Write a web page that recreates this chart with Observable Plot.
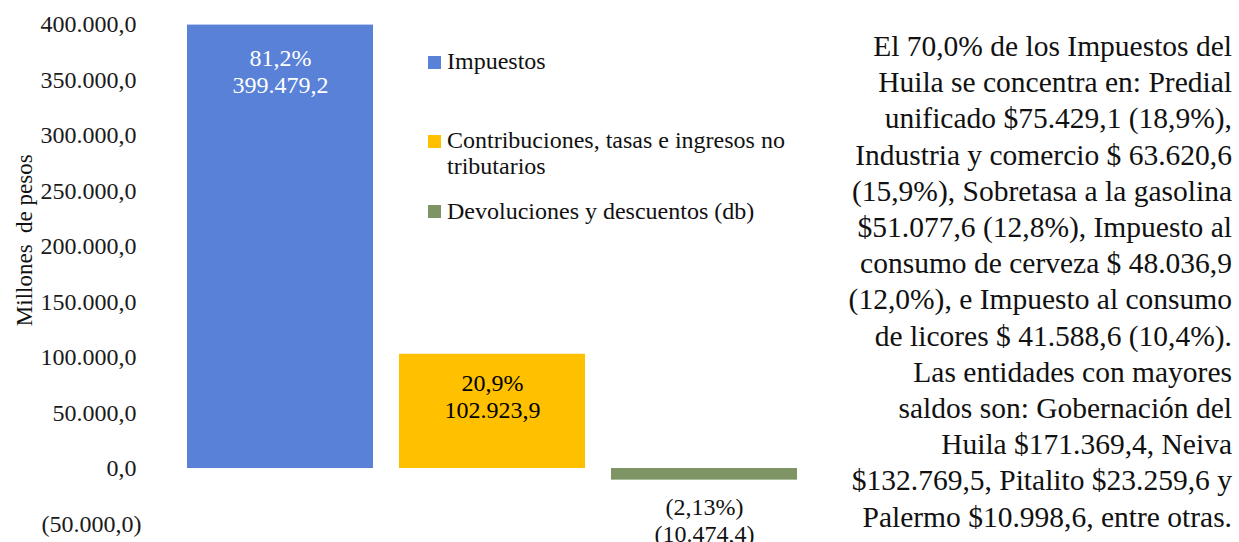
<!DOCTYPE html>
<html><head><meta charset="utf-8">
<script src="https://cdn.jsdelivr.net/npm/d3@7"></script>
<script src="https://cdn.jsdelivr.net/npm/@observablehq/plot@0.6"></script>
<style>
body{margin:0;background:#fff;}
#wrap{position:relative;width:1239px;height:542px;overflow:hidden;font-family:"Liberation Serif",serif;color:#000;background:#fff;}
#chart{position:absolute;left:0;top:0;}
#chart svg text{white-space:pre;}
.sw{position:absolute;left:428px;width:13px;height:13px;}
.lt{position:absolute;left:447px;width:350px;font-size:24px;line-height:26px;color:#111;}
#note{position:absolute;right:7px;top:28px;font-size:29.5px;line-height:36.2px;text-align:right;white-space:nowrap;color:#111;}
</style></head><body>
<div id="wrap"><div id="chart"></div><div id="legend"></div><div id="note"></div></div>
<script>
// ---- data ----
const categories = ["Impuestos", "Contribuciones, tasas e ingresos no tributarios", "Devoluciones y descuentos (db)"];
const values = [399479.2, 102923.9, -10474.4];
const shares = [81.2, 20.9, -2.13];
const yTicks = [-50000, 0, 50000, 100000, 150000, 200000, 250000, 300000, 350000, 400000];
const yLabel = "Millones  de pesos";
const noteLines = [
  "El 70,0% de los Impuestos del",
  "Huila se concentra en: Predial",
  "unificado $75.429,1 (18,9%),",
  "Industria y comercio $ 63.620,6",
  "(15,9%), Sobretasa a la gasolina",
  "$51.077,6 (12,8%), Impuesto al",
  "consumo de cerveza $ 48.036,9",
  "(12,0%), e Impuesto al consumo",
  "de licores $ 41.588,6 (10,4%).",
  "Las entidades con mayores",
  "saldos son: Gobernación del",
  "Huila $171.369,4, Neiva",
  "$132.769,5, Pitalito $23.259,6 y",
  "Palermo $10.998,6, entre otras."
];

// ---- styles ----
const barColors = ["#5881D7", "#FFC000", "#7E9464"];

const loc = d3.formatLocale({decimal: ",", thousands: ".", grouping: [3], currency: ["$", ""]});
const f1 = loc.format(",.1f");
const fmtNum = v => v < 0 ? `(${f1(-v)})` : f1(v);
const fp = loc.format(".2~f");
const fmtPct = v => v < 0 ? `(${fp(-v)}%)` : `${fp(v)}%`;

const data = categories.map((c, i) => ({
  category: c, value: values[i], share: shares[i],
  label: fmtPct(shares[i]) + "\n" + fmtNum(values[i])
}));

const chart = Plot.plot({
  width: 1239, height: 542,
  marginTop: 24, marginBottom: 18.5, marginLeft: 186, marginRight: 442,
  style: {fontFamily: '"Liberation Serif", serif', fontSize: "24px", background: "white", color: "#1a1a1a", overflow: "visible"},
  x: {domain: categories, paddingInner: 0.125, paddingOuter: 0, axis: null},
  y: {domain: [-50000, 400000], axis: null},
  color: {domain: categories, range: barColors},
  marks: [
    Plot.barY(data, {x: "category", y: "value", fill: "category"}),
    Plot.axisY({ticks: yTicks.filter(t => t >= 0), tickSize: 0, tickPadding: 50, tickFormat: fmtNum, fontSize: 24, label: null}),
    Plot.axisY({ticks: yTicks.filter(t => t < 0), tickSize: 0, tickPadding: 45, tickFormat: fmtNum, fontSize: 24, label: null}),
    Plot.text(data.filter((d, i) => i === 0), {x: "category", y: "value", text: "label", dy: 46, lineHeight: 1.12, fill: "white", fontSize: 24}),
    Plot.text(data.filter((d, i) => i > 0 && d.value >= 0), {x: "category", y: "value", text: "label", dy: 42, lineHeight: 1.12, fill: "black", fontSize: 24}),
    Plot.text(data.filter(d => d.value < 0), {x: "category", y: "value", text: "label", dy: 40, lineHeight: 1.1, fill: "#111", fontSize: 24}),
    Plot.text([yLabel], {frameAnchor: "left", textAnchor: "middle", lineAnchor: "middle", rotate: -90, dx: -162, dy: -34, fontSize: 23, fill: "#111"})
  ]
});
document.getElementById("chart").appendChild(chart);

// legend
const legTops = [48, 127, 197.5];
const leg = document.getElementById("legend");
categories.forEach((c, i) => {
  const sw = document.createElement("div");
  sw.className = "sw";
  sw.style.top = (legTops[i] + 7.5) + "px";
  sw.style.background = barColors[i];
  leg.appendChild(sw);
  const t = document.createElement("div");
  t.className = "lt";
  t.style.top = legTops[i] + "px";
  t.textContent = c;
  leg.appendChild(t);
});

// note
const note = document.getElementById("note");
noteLines.forEach((l, i) => {
  if (i) note.appendChild(document.createElement("br"));
  note.appendChild(document.createTextNode(l));
});
</script>
</body></html>
